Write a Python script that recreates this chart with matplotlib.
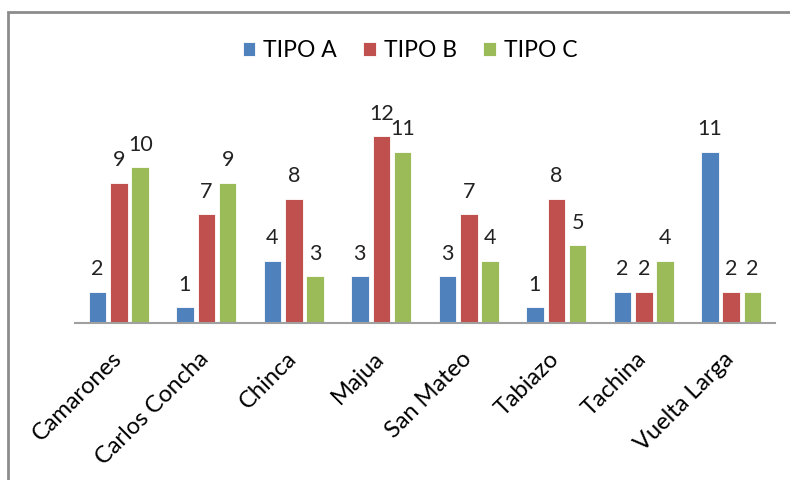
#!/usr/bin/env python3
# Grouped bar chart: TIPO A / B / C per locality
import numpy as np
import matplotlib
matplotlib.use("Agg")
import matplotlib.pyplot as plt
import matplotlib.transforms as mtransforms
from matplotlib.patches import Rectangle

plt.rcParams['font.family'] = ['Lato', 'DejaVu Sans']

# data
localidades = ["Camarones", "Carlos Concha", "Chinca", "Majua",
               "San Mateo", "Tabiazo", "Tachina", "Vuelta Larga"]
tipo_a = [2, 1, 4, 3, 3, 1, 2, 11]
tipo_b = [9, 7, 8, 12, 7, 8, 2, 2]
tipo_c = [10, 9, 3, 11, 4, 5, 4, 2]

series = [("TIPO A", tipo_a, "#4F81BD"),
          ("TIPO B", tipo_b, "#C0504D"),
          ("TIPO C", tipo_c, "#9BBB59")]

fig = plt.figure(figsize=(7.9, 4.8), dpi=100)
ax = fig.add_axes([0.095, 0.327, 0.886, 0.454])

x = np.arange(len(localidades))
width = 0.2
step = 0.245
for i, (name, vals, color) in enumerate(series):
    bars = ax.bar(x + (i - 1) * step, vals, width, color=color,
                  edgecolor="white", linewidth=0.6, label=name)
    ax.bar_label(bars, padding=9, fontsize=15.5, color="#222222")

ax.set_xlim(-0.5, len(localidades) - 0.5)
ax.set_ylim(0, 14)
ax.set_yticks([])
ax.set_xticks(x)
ax.set_xticklabels(localidades, rotation=45, ha="right",
                   rotation_mode="anchor", fontsize=17)
ax.tick_params(axis="x", length=0, pad=18)
# nudge the rotated labels a little to the left
shift = mtransforms.ScaledTranslation(-8 / 100, 0, fig.dpi_scale_trans)
for lbl in ax.get_xticklabels():
    lbl.set_transform(lbl.get_transform() + shift)
for side in ("top", "right", "left"):
    ax.spines[side].set_visible(False)
ax.spines["bottom"].set_color("#A0A0A0")
ax.spines["bottom"].set_linewidth(1.5)

# legend on top
fig.legend(loc="center", bbox_to_anchor=(0.519, 0.895), ncol=3,
           frameon=False, fontsize=16.5, handlelength=0.55,
           handleheight=0.55, handletextpad=0.35, columnspacing=1.15)

# chart-area border
fig.patches.append(Rectangle((8 / 790, -0.1), 1.2, 1 - 12 / 480 + 0.1,
                             transform=fig.transFigure, fill=False,
                             edgecolor="#8C8C8C", linewidth=2.0))

fig.savefig("out.png", dpi=100)
